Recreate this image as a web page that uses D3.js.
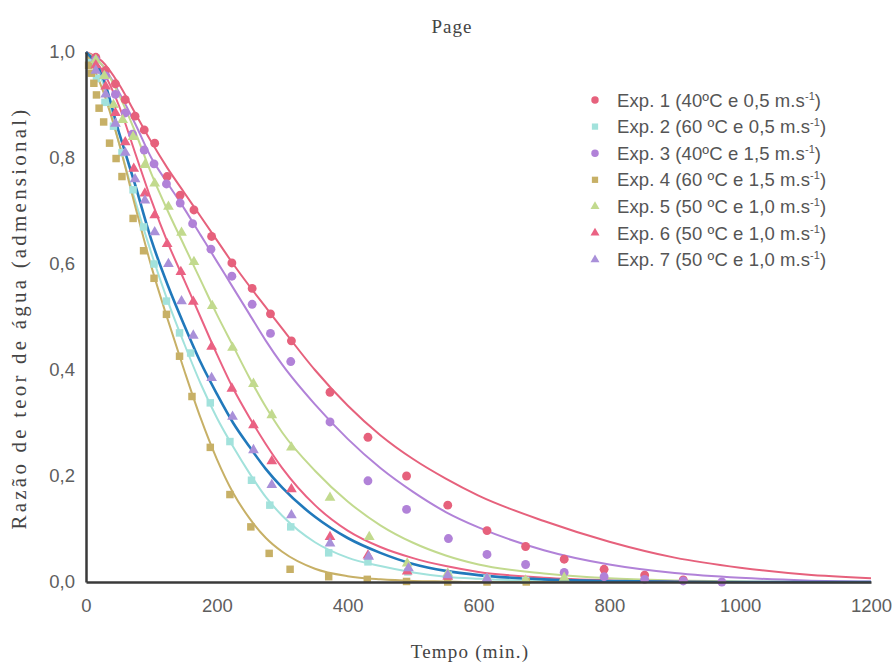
<!DOCTYPE html>
<html>
<head>
<meta charset="utf-8">
<script src="https://cdn.jsdelivr.net/npm/d3@7"></script>
<style>
  body { margin: 0; background: #fff; }
  svg { display: block; }
</style>
</head>
<body>
<svg id="chart"></svg>
<script>
// tempos (min) usados nas curvas do modelo de Page
const tempoCurva = [0, 25, 50, 75, 100, 125, 150, 175, 200, 225, 250, 275, 300, 350, 400, 450, 500, 550, 600, 700, 800, 900, 1000, 1100, 1200];

const curvaExp1 = [1, 0.982, 0.94, 0.885, 0.83, 0.78, 0.735, 0.69, 0.645, 0.60, 0.558, 0.518, 0.478, 0.40, 0.333, 0.277, 0.232, 0.195, 0.163, 0.115, 0.076, 0.046, 0.027, 0.014, 0.007];
const curvaExp2 = [1, 0.945, 0.83, 0.72, 0.62, 0.53, 0.45, 0.375, 0.31, 0.255, 0.205, 0.16, 0.125, 0.075, 0.046, 0.03, 0.018, 0.01, 0.006, 0.002, 0.0005, 0, 0, 0, 0];
const curvaExp3 = [1, 0.975, 0.925, 0.865, 0.80, 0.752, 0.705, 0.655, 0.605, 0.555, 0.505, 0.455, 0.41, 0.335, 0.27, 0.215, 0.17, 0.132, 0.103, 0.06, 0.033, 0.017, 0.008, 0.003, 0.001];
const curvaExp4 = [1, 0.93, 0.83, 0.71, 0.595, 0.495, 0.40, 0.31, 0.232, 0.168, 0.12, 0.083, 0.057, 0.025, 0.011, 0.005, 0.002, 0.001, 0, 0, 0, 0, 0, 0, 0];
const curvaExp5 = [1, 0.975, 0.92, 0.85, 0.77, 0.70, 0.635, 0.57, 0.505, 0.445, 0.385, 0.33, 0.282, 0.21, 0.152, 0.107, 0.074, 0.05, 0.033, 0.016, 0.007, 0.003, 0.001, 0, 0];
const curvaExp6 = [1, 0.965, 0.90, 0.81, 0.72, 0.64, 0.57, 0.50, 0.43, 0.365, 0.31, 0.26, 0.215, 0.145, 0.097, 0.066, 0.045, 0.03, 0.019, 0.008, 0.003, 0.001, 0, 0, 0];
const curvaExp7 = [1, 0.955, 0.85, 0.75, 0.645, 0.56, 0.485, 0.415, 0.355, 0.30, 0.255, 0.213, 0.178, 0.123, 0.083, 0.055, 0.034, 0.021, 0.013, 0.005, 0.002, 0.0005, 0, 0, 0];

// pontos experimentais
const exp1Tempo = [15, 30, 45, 60, 75, 89, 105, 124, 144, 165, 192, 223, 254, 282, 314, 373, 431, 490, 553, 613, 672, 731, 792, 854, 913];
const exp1Razao = [0.99, 0.965, 0.94, 0.91, 0.879, 0.853, 0.828, 0.765, 0.73, 0.702, 0.652, 0.602, 0.554, 0.506, 0.455, 0.358, 0.273, 0.2, 0.145, 0.097, 0.067, 0.043, 0.024, 0.013, 0.004];

const exp2Tempo = [6, 16, 29, 42, 55, 72, 88, 104, 123, 143, 160, 190, 220, 253, 281, 313, 371, 431, 492, 554, 613, 672];
const exp2Razao = [0.98, 0.95, 0.905, 0.86, 0.81, 0.74, 0.67, 0.6, 0.53, 0.47, 0.432, 0.338, 0.265, 0.192, 0.145, 0.104, 0.055, 0.038, 0.019, 0.013, 0.006, 0.003];

const exp3Tempo = [15, 30, 45, 60, 71, 89, 104, 123, 144, 163, 191, 223, 254, 282, 313, 373, 431, 490, 554, 613, 672, 731, 792, 854, 913, 972];
const exp3Razao = [0.985, 0.955, 0.92, 0.885, 0.845, 0.815, 0.789, 0.751, 0.715, 0.676, 0.628, 0.577, 0.524, 0.469, 0.416, 0.302, 0.191, 0.137, 0.082, 0.052, 0.033, 0.018, 0.01, 0.005, 0.002, 0];

const exp4Tempo = [4, 8, 12, 16, 20, 27, 36, 46, 55, 72, 88, 104, 123, 143, 162, 190, 220, 252, 280, 312, 371, 430, 490, 553, 613, 673];
const exp4Razao = [0.975, 0.96, 0.941, 0.919, 0.894, 0.868, 0.828, 0.799, 0.765, 0.686, 0.625, 0.573, 0.505, 0.426, 0.35, 0.254, 0.165, 0.104, 0.054, 0.024, 0.01, 0.005, 0.001, 0, 0, 0];

const exp5Tempo = [15, 28, 42, 56, 72, 90, 105, 126, 146, 165, 193, 224, 256, 284, 314, 373, 433, 491, 553, 613, 672, 731];
const exp5Razao = [0.985, 0.955, 0.9, 0.872, 0.84, 0.787, 0.752, 0.708, 0.659, 0.604, 0.521, 0.442, 0.374, 0.315, 0.254, 0.159, 0.085, 0.035, 0.016, 0.006, 0.003, 0.008];

const exp6Tempo = [15, 30, 45, 60, 73, 90, 105, 124, 145, 164, 192, 223, 256, 284, 314, 373, 431, 491, 553, 613];
const exp6Razao = [0.975, 0.935, 0.885, 0.83, 0.78, 0.733, 0.692, 0.638, 0.585, 0.529, 0.444, 0.365, 0.296, 0.228, 0.175, 0.085, 0.05, 0.02, 0.01, 0.005];

const exp7Tempo = [15, 30, 45, 60, 75, 90, 105, 126, 146, 164, 192, 224, 256, 284, 314, 373, 432, 493, 553, 613];
const exp7Razao = [0.965, 0.92, 0.865, 0.81, 0.76, 0.72, 0.66, 0.6, 0.53, 0.465, 0.385, 0.312, 0.249, 0.183, 0.126, 0.073, 0.048, 0.026, 0.013, 0.006];

const legendaTextos = [
  'Exp. 1 (40ºC e 0,5 m.s',
  'Exp. 2 (60 ºC e 0,5 m.s',
  'Exp. 3 (40ºC e 1,5 m.s',
  'Exp. 4 (60 ºC e 1,5 m.s',
  'Exp. 5 (50 ºC e 1,0 m.s',
  'Exp. 6 (50 ºC e 1,0 m.s',
  'Exp. 7 (50 ºC e 1,0 m.s'
];

const yTicks = [0, 0.2, 0.4, 0.6, 0.8, 1.0];
const xTicks = [0, 200, 400, 600, 800, 1000, 1200];

const width = 895, height = 666;
const margin = { top: 52, right: 24, bottom: 84, left: 86 };

const svg = d3.select('#chart')
  .attr('width', width)
  .attr('height', height);

svg.append('rect')
  .attr('width', width)
  .attr('height', height)
  .attr('fill', '#fff');

const x = d3.scaleLinear()
  .domain([0, 1200])
  .range([margin.left, width - margin.right]);

const y = d3.scaleLinear()
  .domain([0, 1])
  .range([height - margin.bottom, margin.top]);

const ptBR = d3.formatLocale({ decimal: ',', thousands: '.', grouping: [3], currency: ['', ''] });

// series (cores, simbolos e linha de ajuste)
const series = [
  { tempo: exp1Tempo, razao: exp1Razao, curva: curvaExp1, cor: '#e6617c', linha: '#e6617c', simbolo: d3.symbolCircle, tam: 62, lw: 2 },
  { tempo: exp2Tempo, razao: exp2Razao, curva: curvaExp2, cor: '#a2e2dc', linha: '#a2e2dc', simbolo: d3.symbolSquare, tam: 56, lw: 2 },
  { tempo: exp3Tempo, razao: exp3Razao, curva: curvaExp3, cor: '#b182d8', linha: '#b182d8', simbolo: d3.symbolCircle, tam: 62, lw: 2 },
  { tempo: exp4Tempo, razao: exp4Razao, curva: curvaExp4, cor: '#c7b066', linha: '#c7b066', simbolo: d3.symbolSquare, tam: 56, lw: 2 },
  { tempo: exp5Tempo, razao: exp5Razao, curva: curvaExp5, cor: '#c2da8e', linha: '#c2da8e', simbolo: d3.symbolTriangle, tam: 50, lw: 2 },
  { tempo: exp6Tempo, razao: exp6Razao, curva: curvaExp6, cor: '#ea6283', linha: '#ea6283', simbolo: d3.symbolTriangle, tam: 50, lw: 2 },
  { tempo: exp7Tempo, razao: exp7Razao, curva: curvaExp7, cor: '#a990d9', linha: '#2179bb', simbolo: d3.symbolTriangle, tam: 50, lw: 2.6 }
];

const line = d3.line()
  .x(d => x(d[0]))
  .y(d => y(d[1]))
  .curve(d3.curveMonotoneX);

const gLinhas = svg.append('g').attr('class', 'linhas');
series.forEach(s => {
  gLinhas.append('path')
    .datum(tempoCurva.map((t, i) => [t, s.curva[i]]))
    .attr('fill', 'none')
    .attr('stroke', s.linha)
    .attr('stroke-width', s.lw)
    .attr('d', line);
});

const gPontos = svg.append('g').attr('class', 'pontos');
series.forEach(s => {
  gPontos.selectAll(null)
    .data(s.tempo.map((t, i) => [t, s.razao[i]]))
    .enter().append('path')
    .attr('d', d3.symbol().type(s.simbolo).size(s.tam))
    .attr('transform', d => 'translate(' + x(d[0]) + ',' + y(d[1]) + ')')
    .attr('fill', s.cor);
});

// eixos
const xAxis = d3.axisBottom(x).tickValues(xTicks).tickSize(0).tickPadding(17).tickFormat(d3.format('d'));
const yAxis = d3.axisLeft(y).tickValues(yTicks).tickSize(0).tickPadding(11).tickFormat(ptBR.format('.1f'));

const gx = svg.append('g')
  .attr('transform', 'translate(0,' + (height - margin.bottom) + ')')
  .call(xAxis);
const gy = svg.append('g')
  .attr('transform', 'translate(' + margin.left + ',0)')
  .call(yAxis);

[gx, gy].forEach(g => {
  g.select('.domain').attr('stroke', '#3a3a3a').attr('stroke-width', 2.5);
  g.selectAll('text')
    .attr('fill', '#5e5e5e')
    .style('font-family', '"Liberation Sans", Arial, sans-serif')
    .style('font-size', '18.5px');
});

// titulos
const serif = '"Liberation Serif", "Times New Roman", serif';

svg.append('text')
  .attr('x', 452).attr('y', 33)
  .attr('text-anchor', 'middle')
  .attr('fill', '#444')
  .style('font-family', serif)
  .style('font-size', '19px')
  .style('letter-spacing', '1px')
  .text('Page');

svg.append('text')
  .attr('x', 470).attr('y', 658)
  .attr('text-anchor', 'middle')
  .attr('fill', '#444')
  .style('font-family', serif)
  .style('font-size', '19px')
  .style('letter-spacing', '1.2px')
  .text('Tempo (min.)');

svg.append('text')
  .attr('transform', 'translate(26,318) rotate(-90)')
  .attr('text-anchor', 'middle')
  .attr('fill', '#444')
  .style('font-family', serif)
  .style('font-size', '21px')
  .style('letter-spacing', '3.2px')
  .text('Razão de teor de água (admensional)');

// legenda
const gLeg = svg.append('g').attr('class', 'legenda');
series.forEach((s, i) => {
  const yy = 100 + i * 26.6;
  gLeg.append('path')
    .attr('d', d3.symbol().type(s.simbolo).size(s.tam * 0.7))
    .attr('transform', 'translate(595,' + yy + ')')
    .attr('fill', s.cor);
  const t = gLeg.append('text')
    .attr('x', 617).attr('y', yy + 6.5)
    .attr('fill', '#555')
    .style('font-family', '"Liberation Sans", Arial, sans-serif')
    .style('font-size', '18.5px')
    .style('letter-spacing', '0.1px');
  t.append('tspan').text(legendaTextos[i]);
  t.append('tspan').attr('dy', -7).style('font-size', '11px').text('-1');
  t.append('tspan').attr('dy', 7).text(')');
});
</script>
</body>
</html>
